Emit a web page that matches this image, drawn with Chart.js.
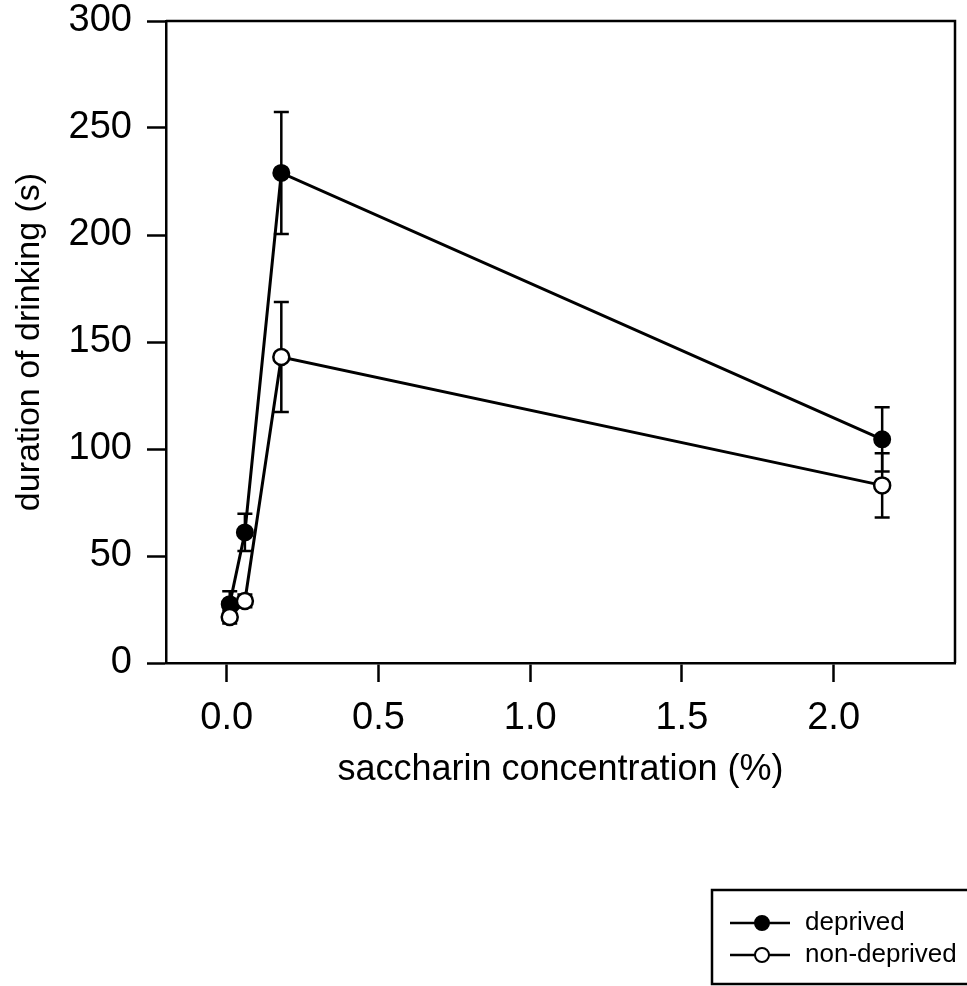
<!DOCTYPE html>
<html>
<head>
<meta charset="utf-8">
<script src="https://cdn.jsdelivr.net/npm/chart.js@4.4.1/dist/chart.umd.min.js"></script>
<style>
    html, body { margin: 0; padding: 0; background: #fff; }
    #wrap { position: relative; width: 967px; height: 986px; }
</style>
</head>
<body>
<div id="wrap"><canvas id="chart" width="967" height="986"></canvas></div>
<script>
/* ---------- Data ---------- */

const concentrations = [0.01, 0.06, 0.18, 2.16];
const deprived = [27.5, 61, 229, 104.5];
const deprivedErr = [6, 8.7, 28.5, 15];
const nonDeprived = [21.5, 29, 143, 83];
const nonDeprivedErr = [3, 3, 25.7, 15];
const xTicks = [0, 0.5, 1.0, 1.5, 2.0];
const yTicks = [0, 50, 100, 150, 200, 250, 300];
const seriesLabels = ['deprived', 'non-deprived'];

const FONT = '"Liberation Sans", Arial, Helvetica, sans-serif';

/* ---------- Plugins ---------- */

// vertical error bars with caps, drawn under the markers
const errorBars = {
    id: 'errorBars',
    beforeDatasetsDraw(chart) {
        const { ctx, scales: { x, y } } = chart;
        ctx.save();
        ctx.strokeStyle = '#000';
        ctx.lineWidth = 2.5;
        chart.data.datasets.forEach(ds => {
            ds.data.forEach((pt, i) => {
                const err = ds.errors[i];
                const px = x.getPixelForValue(pt.x);
                const top = y.getPixelForValue(pt.y + err);
                const bot = y.getPixelForValue(pt.y - err);
                ctx.beginPath();
                ctx.moveTo(px, top); ctx.lineTo(px, bot);
                ctx.moveTo(px - 7.5, top); ctx.lineTo(px + 7.5, top);
                ctx.moveTo(px - 7.5, bot); ctx.lineTo(px + 7.5, bot);
                ctx.stroke();
            });
        });
        ctx.restore();
    },
};

// top and right edges of the plot frame
const frame = {
    id: 'frame',
    afterDraw(chart) {
        const { ctx, chartArea: a } = chart;
        ctx.save();
        ctx.strokeStyle = '#000';
        ctx.lineWidth = 2.5;
        ctx.beginPath();
        ctx.moveTo(a.left, a.top);
        ctx.lineTo(a.right, a.top);
        ctx.lineTo(a.right, a.bottom);
        ctx.stroke();
        ctx.restore();
    },
};

// boxed legend in the lower right corner
const boxLegend = {
    id: 'boxLegend',
    afterDraw(chart) {
        const ctx = chart.ctx;
        ctx.save();
        ctx.strokeStyle = '#000';
        ctx.lineWidth = 2.5;
        ctx.strokeRect(712, 890, 300, 94);
        chart.data.datasets.forEach((ds, i) => {
            const cy = 923 + i * 32;
            ctx.lineWidth = 2.5;
            ctx.beginPath();
            ctx.moveTo(730, cy); ctx.lineTo(790, cy);
            ctx.stroke();
            ctx.beginPath();
            ctx.arc(762, cy, 7, 0, Math.PI * 2);
            ctx.fillStyle = ds.pointBackgroundColor;
            ctx.fill();
            ctx.lineWidth = 2;
            ctx.stroke();
            ctx.fillStyle = '#000';
            ctx.font = '26px ' + FONT;
            ctx.textBaseline = 'middle';
            ctx.textAlign = 'left';
            ctx.fillText(ds.label, 805, cy);
        });
        ctx.restore();
    },
};

/* ---------- Chart ---------- */

const toPoints = ys => concentrations.map((c, i) => ({ x: c, y: ys[i] }));

new Chart(document.getElementById('chart'), {
    type: 'scatter',
    data: {
        datasets: [
            {
                label: seriesLabels[0],
                data: toPoints(deprived),
                errors: deprivedErr,
                showLine: true,
                borderColor: '#000',
                borderWidth: 3,
                pointRadius: 8,
                pointBackgroundColor: '#000',
                pointBorderColor: '#000',
                pointBorderWidth: 2,
                order: 2,
            },
            {
                label: seriesLabels[1],
                data: toPoints(nonDeprived),
                errors: nonDeprivedErr,
                showLine: true,
                borderColor: '#000',
                borderWidth: 3,
                pointRadius: 8,
                pointBackgroundColor: '#fff',
                pointBorderColor: '#000',
                pointBorderWidth: 2.5,
                order: 1,
            },
        ],
    },
    options: {
        responsive: false,
        animation: false,
        layout: { padding: { top: 21, right: 12, bottom: 194, left: 0 } },
        plugins: {
            legend: { display: false },
            tooltip: { enabled: false },
        },
        scales: {
            x: {
                type: 'linear',
                min: -0.2,
                max: 2.4,
                afterBuildTicks: s => { s.ticks = xTicks.map(v => ({ value: v })); },
                afterFit: s => { s.height = 129; s.paddingLeft = 0; s.paddingRight = 0; },
                ticks: {
                    callback: v => v.toFixed(1),
                    color: '#000',
                    font: { family: FONT, size: 38 },
                    padding: 14,
                    maxRotation: 0,
                },
                grid: { drawOnChartArea: false, tickLength: 19, tickWidth: 2.5, tickColor: '#000' },
                border: { color: '#000', width: 2.5 },
                title: {
                    display: true,
                    text: 'saccharin concentration (%)',
                    color: '#000',
                    font: { family: FONT, size: 36 },
                    padding: 0,
                },
            },
            y: {
                min: 0,
                max: 300,
                afterBuildTicks: s => { s.ticks = yTicks.map(v => ({ value: v })); },
                afterFit: s => { s.width = 166; s.paddingTop = 0; s.paddingBottom = 0; },
                ticks: {
                    color: '#000',
                    font: { family: FONT, size: 38 },
                    padding: 15,
                },
                grid: { drawOnChartArea: false, tickLength: 19, tickWidth: 2.5, tickColor: '#000' },
                border: { color: '#000', width: 2.5 },
                title: {
                    display: true,
                    text: 'duration of drinking (s)',
                    color: '#000',
                    font: { family: FONT, size: 34 },
                    padding: { top: 9, bottom: 0 },
                },
            },
        },
    },
    plugins: [errorBars, frame, boxLegend],
});
</script>
</body>
</html>
